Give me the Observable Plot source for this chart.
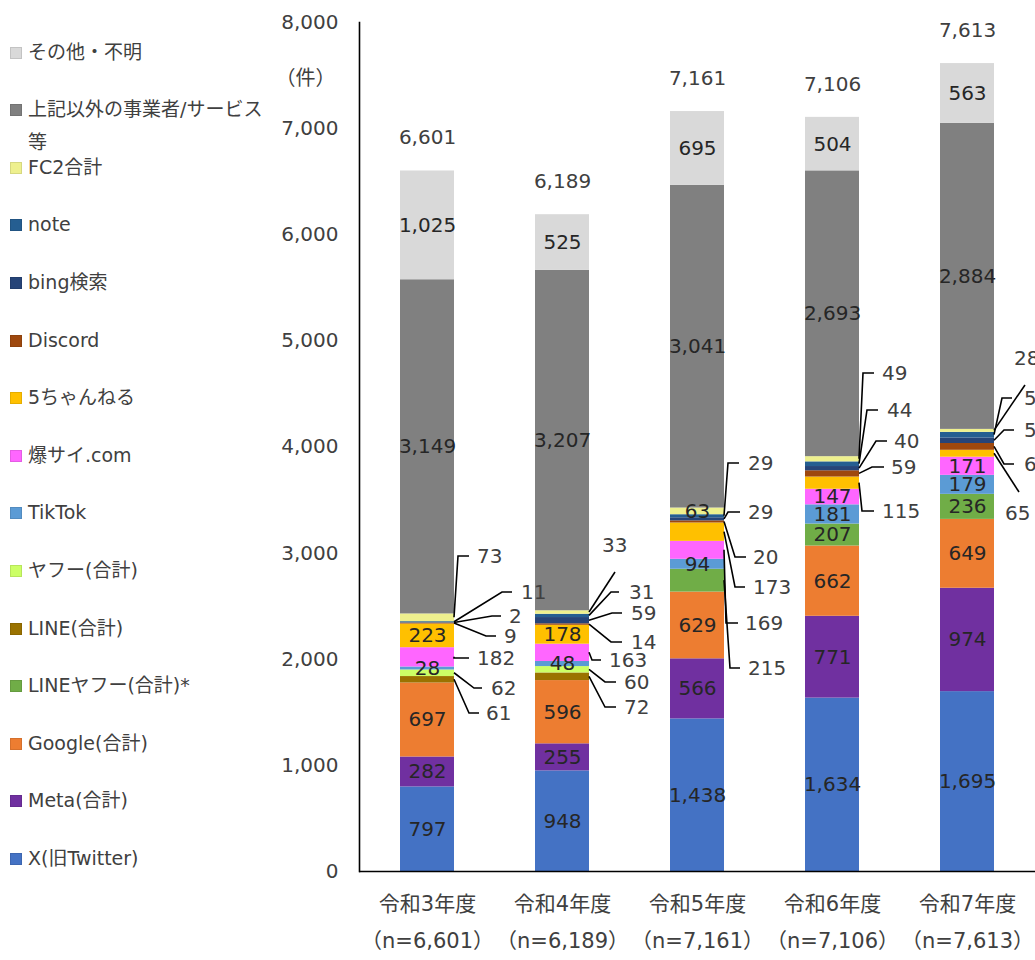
<!DOCTYPE html>
<html><head><meta charset="utf-8">
<script src="https://cdn.jsdelivr.net/npm/d3@7"></script>
<script src="https://cdn.jsdelivr.net/npm/@observablehq/plot@0.6"></script>
<style>
body{margin:0;overflow:hidden;background:#fff;font-family:"DejaVu Sans","Noto Sans CJK JP",sans-serif;}
#wrap{position:relative;width:1035px;height:960px;}
#legend{position:absolute;left:0;top:0;width:300px;height:960px;}
.item{position:absolute;left:10px;width:290px;display:flex;align-items:flex-start;font-size:19px;line-height:33px;color:#404040;}
.sw{width:12px;height:12px;margin-top:11px;margin-right:6px;flex:none;box-sizing:border-box;}
.lab{max-width:245px;}
</style></head><body><div id="wrap"><div id="legend"></div></div>
<script>
// ---- data ----
const years = ["令和3年度", "令和4年度", "令和5年度", "令和6年度", "令和7年度"];
// series listed bottom -> top of the stack
const seriesNames = ["X(旧Twitter)", "Meta(合計)", "Google(合計)", "LINEヤフー(合計)*", "LINE(合計)", "ヤフー(合計)",
  "TikTok", "爆サイ.com", "5ちゃんねる", "Discord", "bing検索", "note", "FC2合計", "上記以外の事業者/サービス等", "その他・不明"];
const seriesColors = ["#4472C4", "#7030A0", "#ED7D31", "#70AD47", "#9A7200", "#CCFF66",
  "#5B9BD5", "#FF66FF", "#FFC000", "#9E480E", "#264478", "#255E91", "#EEF08E", "#808080", "#D9D9D9"];
const xTwitter  = [797, 948, 1438, 1634, 1695];
const meta      = [282, 255, 566, 771, 974];
const google    = [697, 596, 629, 662, 649];
const lineYahoo = [0, 0, 215, 207, 236];
const lineApp   = [61, 72, 0, 0, 0];
const yahoo     = [62, 60, 0, 0, 0];
const tiktok    = [28, 48, 94, 181, 179];
const bakusai   = [182, 163, 169, 147, 171];
const goch      = [223, 178, 173, 115, 65];
const discord   = [9, 14, 20, 59, 64];
const bing      = [2, 59, 29, 40, 52];
const note      = [11, 31, 29, 44, 53];
const fc2       = [73, 33, 63, 49, 28];
const otherSvc  = [3149, 3207, 3041, 2693, 2884];
const unknown   = [1025, 525, 695, 504, 563];
const seriesValues = [xTwitter, meta, google, lineYahoo, lineApp, yahoo, tiktok, bakusai, goch, discord, bing, note, fc2, otherSvc, unknown];
const yTicks = [0, 1000, 2000, 3000, 4000, 5000, 6000, 7000, 8000];
const unitLabel = "（件）";

// callout label layout: label y (data units), optional elbow y (data units), offsets in px from bar's right edge
const calloutLayout = [
  {year: "令和3年度", series: "FC2合計", ly: 2968, dx: 4, hx: 11, tx: 23},
  {year: "令和3年度", series: "note", ly: 2629, dx: 48, hx: 10, tx: 67},
  {year: "令和3年度", series: "bing検索", ly: 2403, dx: 38, hx: 9, tx: 55},
  {year: "令和3年度", series: "Discord", ly: 2214, dx: 32, hx: 10, tx: 50},
  {year: "令和3年度", series: "爆サイ.com", ly: 2007, dx: 0, hx: 15, tx: 23},
  {year: "令和3年度", series: "ヤフー(合計)", ly: 1724, dx: 20, hx: 8, tx: 37},
  {year: "令和3年度", series: "LINE(合計)", ly: 1489, dx: 15, hx: 10, tx: 32},
  {year: "令和4年度", series: "FC2合計", ly: 3072, ey: 2817, dx: 26, hx: 0, tx: 13},
  {year: "令和4年度", series: "note", ly: 2629, dx: 22, hx: 8, tx: 40},
  {year: "令和4年度", series: "bing検索", ly: 2431, dx: 23, hx: 10, tx: 42},
  {year: "令和4年度", series: "Discord", ly: 2158, dx: 22, hx: 11, tx: 42},
  {year: "令和4年度", series: "爆サイ.com", ly: 1988, dx: 3, hx: 9, tx: 20},
  {year: "令和4年度", series: "ヤフー(合計)", ly: 1781, dx: 16, hx: 11, tx: 35},
  {year: "令和4年度", series: "LINE(合計)", ly: 1545, dx: 16, hx: 11, tx: 35},
  {year: "令和5年度", series: "note", ly: 3845, dx: 4, hx: 11, tx: 24},
  {year: "令和5年度", series: "bing検索", ly: 3383, dx: 4, hx: 12, tx: 24},
  {year: "令和5年度", series: "Discord", ly: 2959, dx: 11, hx: 11, tx: 29},
  {year: "令和5年度", series: "5ちゃんねる", ly: 2676, dx: 11, hx: 10, tx: 29},
  {year: "令和5年度", series: "爆サイ.com", ly: 2337, dx: 2, hx: 12, tx: 21},
  {year: "令和5年度", series: "LINEヤフー(合計)*", ly: 1913, dx: 6, hx: 10, tx: 24},
  {year: "令和6年度", series: "FC2合計", ly: 4693, dx: 4, hx: 11, tx: 23},
  {year: "令和6年度", series: "note", ly: 4344, dx: 8, hx: 11, tx: 28},
  {year: "令和6年度", series: "bing検索", ly: 4052, dx: 17, hx: 11, tx: 35},
  {year: "令和6年度", series: "Discord", ly: 3807, dx: 13, hx: 12, tx: 32},
  {year: "令和6年度", series: "5ちゃんねる", ly: 3392, dx: 3, hx: 12, tx: 23},
  {year: "令和7年度", series: "FC2合計", ly: 4834, ey: 4580, dx: 31, hx: 0, tx: 20},
  {year: "令和7年度", series: "note", ly: 4457, dx: 8, hx: 10, tx: 30},
  {year: "令和7年度", series: "bing検索", ly: 4155, dx: 10, hx: 10, tx: 30},
  {year: "令和7年度", series: "Discord", ly: 3835, dx: 10, hx: 10, tx: 30},
  {year: "令和7年度", series: "5ちゃんねる", ly: 3373, ey: 3571, dx: 25, hx: 0, tx: 11}
];

// ---- build stacked table ----
const fmt = d3.format(",");
const rows = [];
years.forEach((yr, i) => {
  let acc = 0;
  seriesNames.forEach((s, j) => {
    const v = seriesValues[j][i];
    rows.push({year: yr, series: s, value: v, y1: acc, y2: acc + v, mid: acc + v / 2});
    acc += v;
  });
});
const totals = years.map((yr, i) => ({year: yr, total: d3.sum(seriesValues, a => a[i])}));
const calloutKey = new Set(calloutLayout.map(c => c.year + "|" + c.series));
const inside = rows.filter(r => r.value > 0 && !calloutKey.has(r.year + "|" + r.series));
const xLabel = yr => {
  const t = totals.find(d => d.year === yr).total;
  return yr + "\n（n=" + fmt(t) + "）";
};

// callouts drawn with the plot's own scales
function calloutMark(index, scales) {
  const g = d3.create("svg:g").attr("text-anchor", "start");
  const x = scales.x, y = scales.y;
  const bw = typeof x.bandwidth === "function" ? x.bandwidth() : x.bandwidth;
  for (const c of calloutLayout) {
    const r = rows.find(d => d.year === c.year && d.series === c.series);
    const edge = x(c.year) + bw;
    const ay = y(r.mid);
    const ly = y(c.ly);
    const ey = c.ey != null ? y(c.ey) : ly;
    const pts = [[edge, ay], [edge + c.dx, ey]];
    if (c.hx) pts.push([edge + c.dx + c.hx, ey]);
    g.append("path").attr("d", d3.line()(pts)).attr("fill", "none")
      .attr("stroke", "#000").attr("stroke-width", 1.6);
    g.append("text").attr("x", edge + c.tx).attr("y", ly).attr("dy", "0.35em")
      .attr("text-anchor", "start").attr("fill", "#404040").text(fmt(r.value));
  }
  return g.node();
}

const chart = Plot.plot({
  width: 1035,
  height: 960,
  marginLeft: 359,
  marginRight: 0,
  marginTop: 22,
  marginBottom: 89,
  style: {fontFamily: "'DejaVu Sans','Noto Sans CJK JP',sans-serif", fontSize: "20px", color: "#404040", overflow: "visible", background: "transparent"},
  x: {domain: years, paddingInner: 0.6, paddingOuter: 0.3, label: null},
  y: {domain: [0, 8000], label: null},
  color: {domain: seriesNames, range: seriesColors},
  marks: [
    Plot.barY(rows, {x: "year", y1: "y1", y2: "y2", fill: "series"}),
    Plot.text(inside, {x: "year", y: "mid", text: d => fmt(d.value), fill: "#262626"}),
    Plot.text(totals, {x: "year", y: "total", text: d => fmt(d.total), dy: -33, fill: "#404040"}),
    calloutMark,
    Plot.axisY({ticks: yTicks, tickFormat: fmt, tickSize: 0, tickPadding: 21, label: null}),
    Plot.axisX({tickSize: 0, tickPadding: 13, tickFormat: xLabel, lineHeight: 1.78, fontSize: 21, label: null}),
    Plot.frame({anchor: "left", stroke: "#000", strokeWidth: 1.6}),
    Plot.ruleY([0], {stroke: "#000", strokeWidth: 1.6}),
    Plot.text([unitLabel], {frameAnchor: "top-left", dx: -24, dy: 48, textAnchor: "end", fill: "#404040"})
  ]
});
document.getElementById("wrap").prepend(chart);

// legend (top -> bottom is reverse of stack order)
const legend = document.getElementById("legend");
const order = seriesNames.map((s, j) => j).reverse();
order.forEach((j, k) => {
  const it = document.createElement("div");
  it.className = "item";
  it.style.top = (52 + k * 57.6 - 16.5) + "px";
  const sw = document.createElement("span");
  sw.className = "sw";
  sw.style.background = seriesColors[j];
  sw.style.border = "1px solid " + d3.color(seriesColors[j]).darker(0.3);
  const lb = document.createElement("span");
  lb.className = "lab";
  lb.textContent = seriesNames[j];
  it.append(sw, lb);
  legend.append(it);
});
</script></body></html>
